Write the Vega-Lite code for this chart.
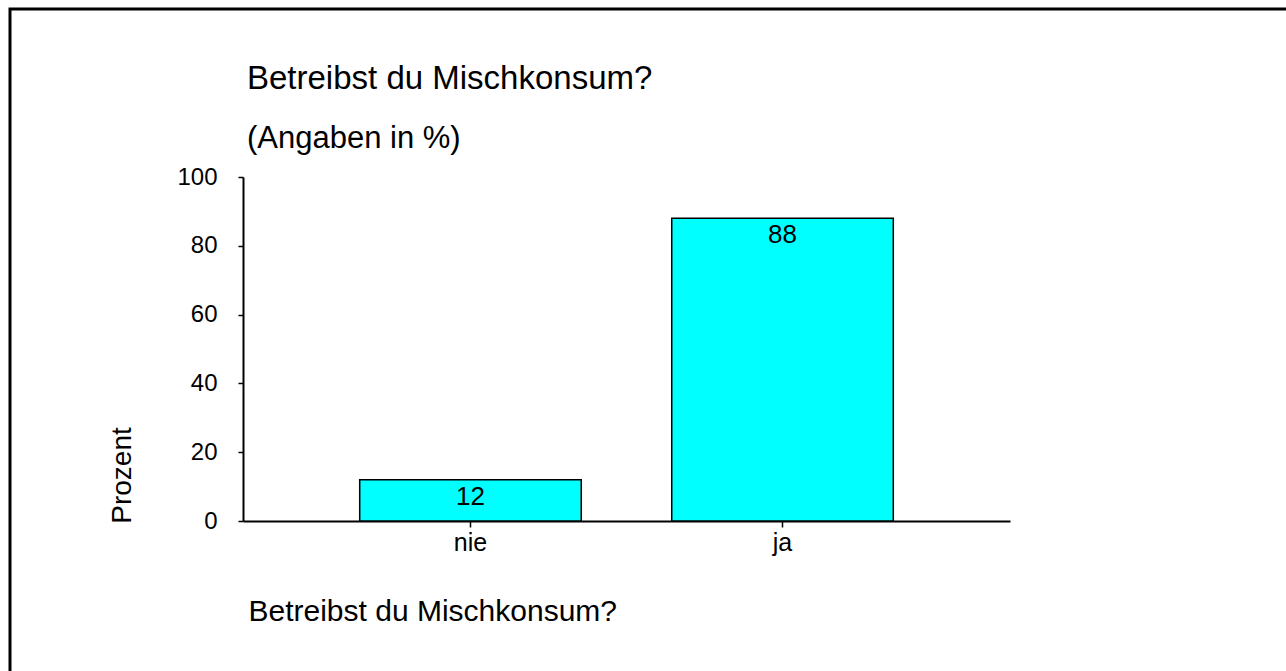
{
  "$schema": "https://vega.github.io/schema/vega-lite/v6.json",
  "width": 1400,
  "height": 760,
  "autosize": {"type": "none"},
  "padding": {"left": 10, "top": 9, "right": -124, "bottom": -98},
  "background": "white",
  "config": {
    "font": "Liberation Sans",
    "view": {"stroke": "black", "strokeWidth": 3}
  },
  "title": {
    "text": "Betreibst du Mischkonsum?",
    "subtitle": "(Angaben in %)",
    "anchor": "start",
    "frame": "group",
    "dx": 237,
    "offset": -145,
    "fontSize": 33,
    "fontWeight": "normal",
    "subtitleFontSize": 31,
    "subtitlePadding": 28,
    "color": "black",
    "subtitleColor": "black",
    "font": "Liberation Sans",
    "subtitleFont": "Liberation Sans"
  },
  "data": {
    "values": [
      {"Mischkonsum": "nie", "Prozent": 12},
      {"Mischkonsum": "ja", "Prozent": 88}
    ]
  },
  "encoding": {
    "x": {
      "field": "Mischkonsum",
      "type": "nominal",
      "sort": null,
      "scale": {"range": [233, 1000], "paddingInner": 0.29, "paddingOuter": 0.374},
      "axis": {
        "title": "Betreibst du Mischkonsum?",
        "orient": "bottom",
        "offset": -248,
        "labelAngle": 0,
        "domainColor": "black",
        "domainWidth": 2,
        "tickColor": "black",
        "tickWidth": 1.5,
        "tickSize": 6,
        "bandPosition": 0.5,
        "labelFontSize": 25,
        "labelColor": "black",
        "labelPadding": 3,
        "titleFontSize": 30,
        "titleFontWeight": "normal",
        "titleColor": "black",
        "titleX": 238,
        "titleY": 99,
        "titleAlign": "left",
        "titleBaseline": "alphabetic"
      }
    },
    "y": {
      "field": "Prozent",
      "type": "quantitative",
      "scale": {"domain": [0, 100], "range": [512, 168], "nice": false},
      "axis": {
        "title": "Prozent",
        "values": [0, 20, 40, 60, 80, 100],
        "offset": -233,
        "grid": false,
        "domainColor": "black",
        "domainWidth": 2,
        "tickColor": "black",
        "tickWidth": 1.5,
        "tickSize": 5,
        "labelFontSize": 24,
        "labelColor": "black",
        "labelPadding": 21,
        "titleFontSize": 28,
        "titleFontWeight": "normal",
        "titleColor": "black",
        "titleX": -121,
        "titleY": 466,
        "titleAngle": -90,
        "titleAlign": "center",
        "titleBaseline": "middle"
      }
    }
  },
  "layer": [
    {"mark": {"type": "bar", "fill": "#00FFFF", "stroke": "black", "strokeWidth": 1.5}},
    {
      "mark": {"type": "text", "baseline": "top", "dy": 4, "fontSize": 26, "color": "black"},
      "encoding": {"text": {"field": "Prozent", "type": "quantitative"}}
    }
  ]
}
